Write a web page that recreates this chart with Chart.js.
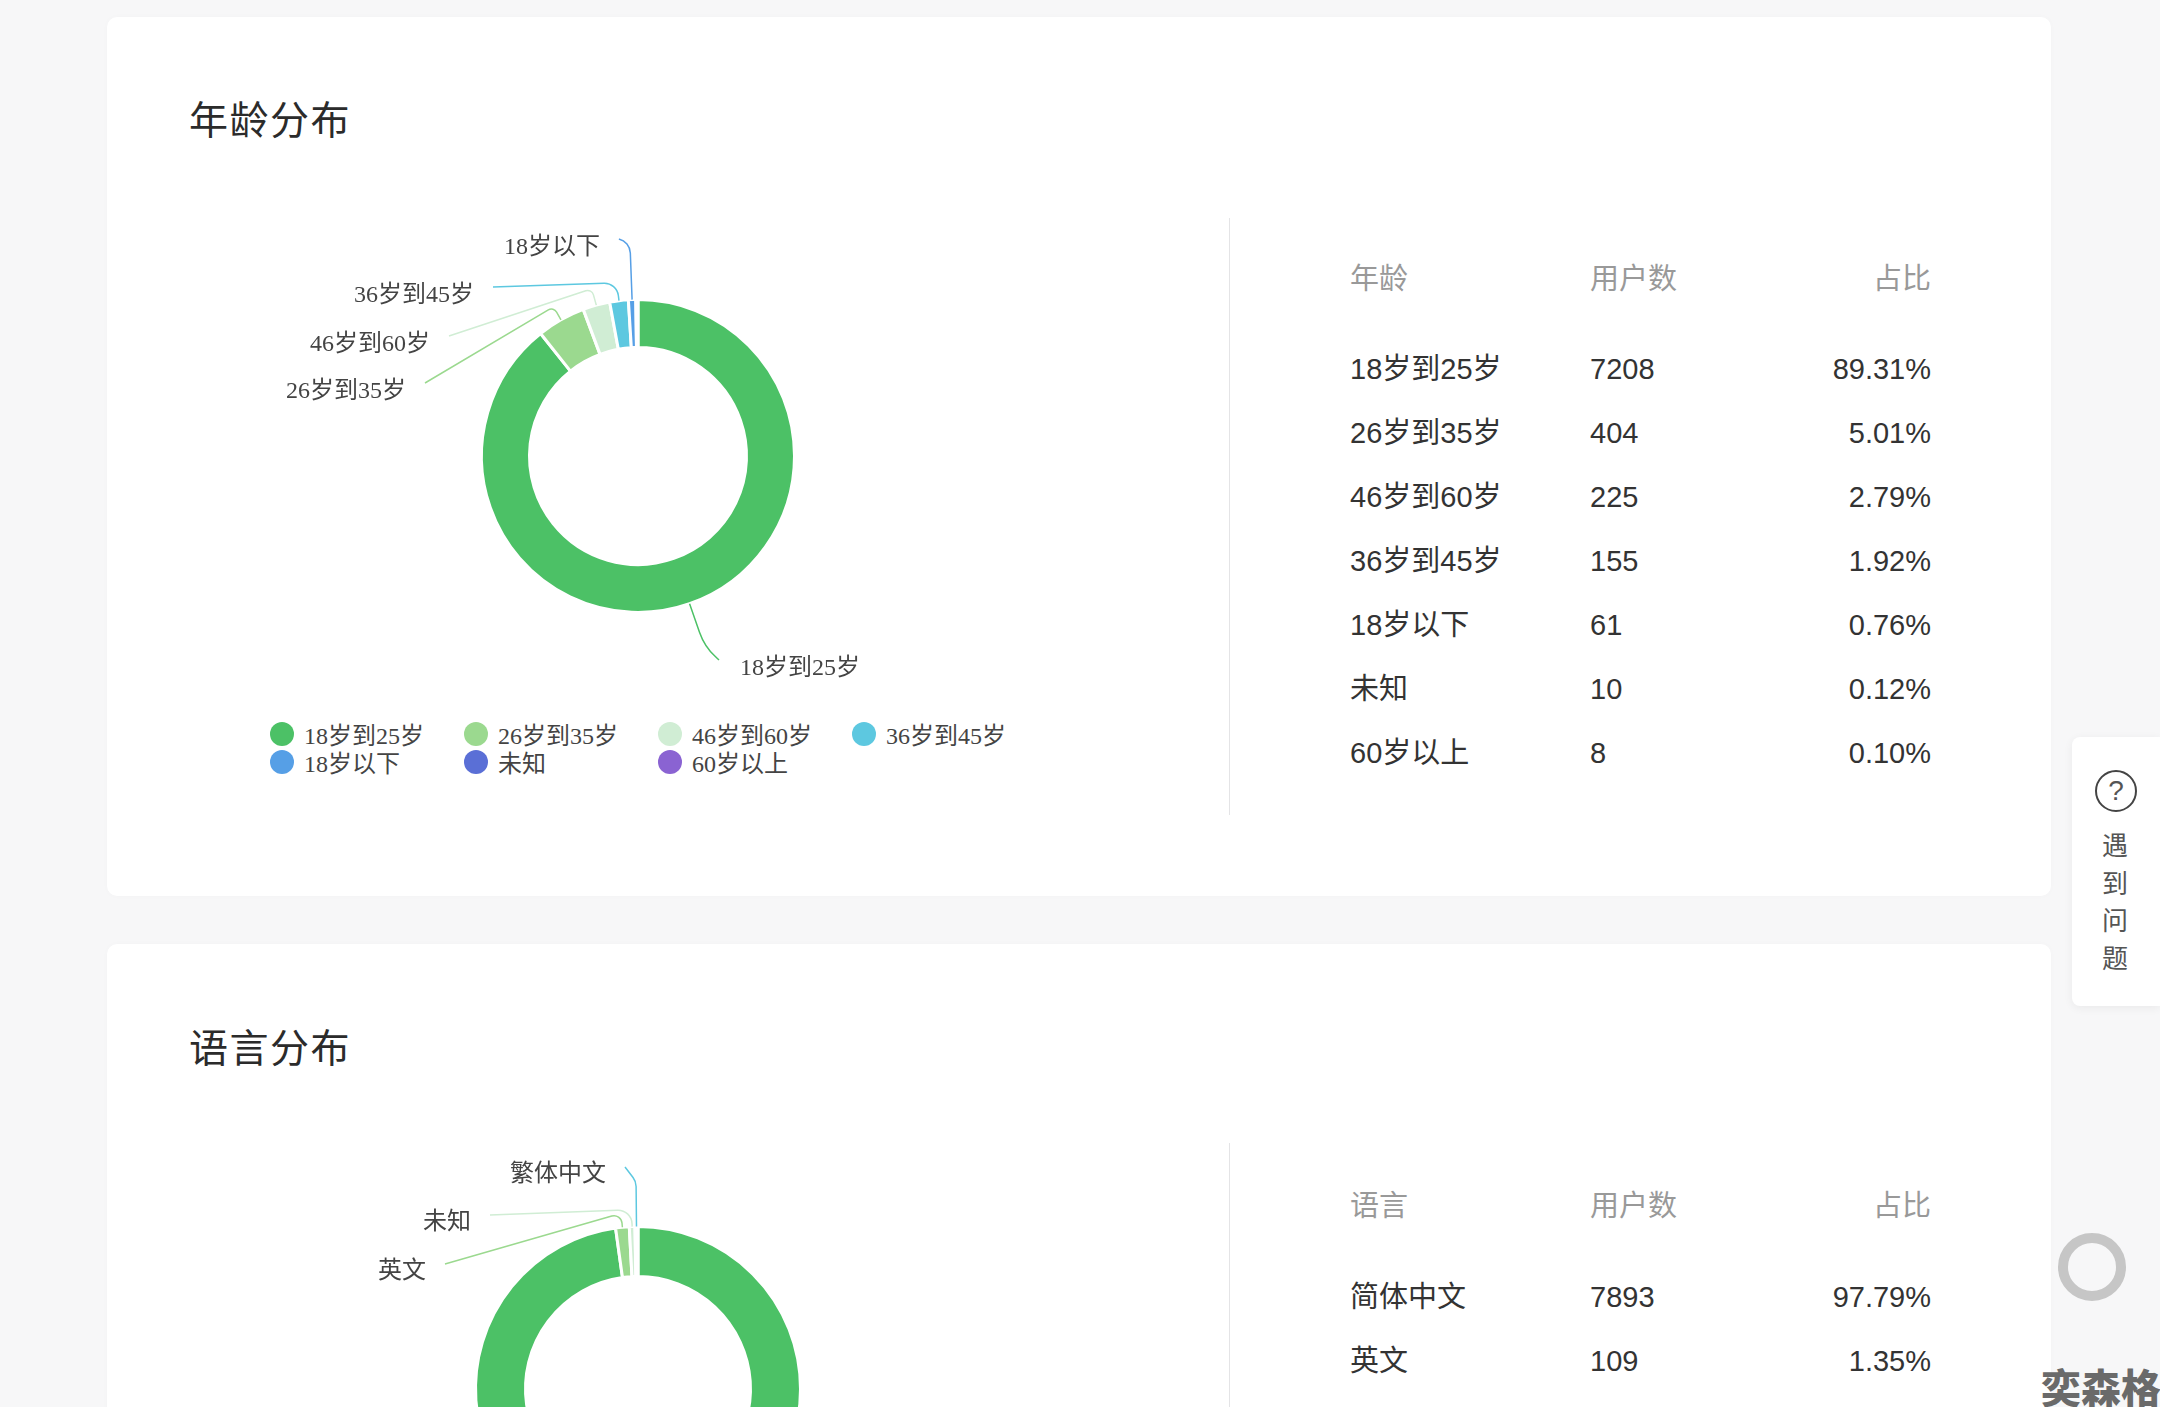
<!DOCTYPE html>
<html lang="zh">
<head>
<meta charset="utf-8">
<title>年龄分布 / 语言分布</title>
<script src="https://cdn.jsdelivr.net/npm/chart.js@4"></script>
<style>
    html, body { margin: 0; padding: 0; }
    body {
        width: 2160px;
        height: 1407px;
        overflow: hidden;
        position: relative;
        background: #f7f7f8;
        font-family: "Liberation Sans", "Noto Sans CJK SC", sans-serif;
        color: #333;
    }
    .card {
        position: absolute;
        left: 107px;
        width: 1944px;
        background: #fff;
        border-radius: 10px;
        box-shadow: 0 0 6px rgba(0, 0, 0, 0.02);
    }
    .card-title {
        position: absolute;
        left: 189px;
        font-size: 39px;
        line-height: 50px;
        letter-spacing: 1.5px;
        color: #2b2b2b;
        font-family: "Noto Sans CJK SC", sans-serif;
    }
    .divider { position: absolute; left: 1229px; width: 1px; background: #e4e4e6; }
    canvas { position: absolute; left: 238px; }
    .cell { position: absolute; font-size: 29px; line-height: 40px; white-space: nowrap; }
    .cell.head { color: #999; }
    .cell.share { right: 229px; }
    .legend-item {
        position: absolute;
        font-family: "Liberation Serif", "Noto Sans CJK SC", serif;
        font-size: 24px;
        line-height: 28px;
        color: #444;
        white-space: nowrap;
    }
    .legend-dot { position: absolute; width: 24px; height: 24px; border-radius: 50%; left: -34px; top: 0; }
    .help {
        position: absolute;
        left: 2072px;
        top: 737px;
        width: 88px;
        height: 269px;
        background: #fff;
        border-radius: 8px 0 0 8px;
        box-shadow: 0 2px 10px rgba(0, 0, 0, 0.06);
    }
    .help-icon {
        position: absolute;
        left: 23px;
        top: 33px;
        width: 38px;
        height: 38px;
        border: 2px solid #444;
        border-radius: 50%;
        text-align: center;
        font-size: 28px;
        line-height: 38px;
        color: #555;
    }
    .help-text {
        position: absolute;
        left: 30px;
        top: 88px;
        width: 28px;
        font-size: 26px;
        line-height: 37.6px;
        color: #555;
        font-family: "Noto Sans CJK SC", sans-serif;
    }
    .ring {
        position: absolute;
        left: 2058px;
        top: 1233px;
        width: 48px;
        height: 48px;
        border: 10px solid #c6c6c6;
        border-radius: 50%;
    }
    .mark {
        position: absolute;
        left: 2041px;
        top: 1358px;
        font-size: 40px;
        line-height: 56px;
        font-weight: 900;
        color: #6a6a6a;
        white-space: nowrap;
        font-family: "Noto Sans CJK SC", sans-serif;
    }
</style>
</head>
<body>
<div class="card" style="top:17px;height:879px"></div>
<div class="card" style="top:944px;height:500px"></div>

<div class="card-title" style="top:92px">年龄分布</div>
<div class="card-title" style="top:1020px">语言分布</div>

<div class="divider" style="top:218px;height:597px"></div>
<div class="divider" style="top:1143px;height:264px"></div>

<canvas id="ageChart" width="800" height="512" style="top:200px"></canvas>
<canvas id="langChart" width="800" height="578" style="top:1100px"></canvas>

<div id="ageLegend"></div>
<div id="ageTable"></div>
<div id="langTable"></div>

<div class="help">
    <div class="help-icon">?</div>
    <div class="help-text">遇到问题</div>
</div>
<div class="ring"></div>
<div class="mark">奕森格</div>

<script>
// Age data
const ageCategories = ['18岁到25岁', '26岁到35岁', '46岁到60岁', '36岁到45岁', '18岁以下', '未知', '60岁以上'];
const ageUsers = [7208, 404, 225, 155, 61, 10, 8];
const ageShares = ['89.31%', '5.01%', '2.79%', '1.92%', '0.76%', '0.12%', '0.10%'];

// Language data (the last two rows are cut off in the picture, estimated from the slices)
const langCategories = ['简体中文', '英文', '未知', '繁体中文'];
const langUsers = [7893, 109, 45, 24];
const langShares = ['97.79%', '1.35%', '0.56%', '0.30%'];

// Slice colors
const ageColors = ['#4cc166', '#9bd98f', '#d0edd4', '#5dc8e0', '#569fe6', '#5a6fd6', '#8a63d2'];
const langColors = ['#4cc166', '#9bd98f', '#d0edd4', '#5dc8e0'];

// Leader lines: end point relative to the donut center, radial length, corner size, label nudge
const ageLeaders = [
    { end: [81, 204], out: 45, bend: 60, dy: 9 },
    { end: [-213, -73], out: 15, bend: 6, dy: 9 },
    { end: [-189, -120], out: 17, bend: 6, dy: 9 },
    { end: [-145, -169], out: 18, bend: 14, dy: 9 },
    { end: [-19, -217], out: 58, bend: 15, dy: 9 },
    null,
    null
];
const langLeaders = [
    null,
    { end: [-193, -125], out: 14, bend: 8, dy: 5 },
    { end: [-148, -174], out: 17, bend: 14, dy: 5 },
    { end: [-13, -222], out: 45, bend: 15, dy: 5 }
];

// Draws the outside labels and their leader lines from the arc positions
function leaderLabels(leaders, font) {
    return {
        id: 'leaderLabels',
        afterDatasetsDraw(chart) {
            const { ctx } = chart;
            const arcs = chart.getDatasetMeta(0).data;
            const dataset = chart.data.datasets[0];
            ctx.save();
            ctx.font = font;
            ctx.textBaseline = 'middle';
            arcs.forEach((arc, i) => {
                const leader = leaders[i];
                if (!leader) return;
                const mid = (arc.startAngle + arc.endAngle) / 2;
                const ax = arc.x + Math.cos(mid) * arc.outerRadius;
                const ay = arc.y + Math.sin(mid) * arc.outerRadius;
                const ex = ax + Math.cos(mid) * leader.out;
                const ey = ay + Math.sin(mid) * leader.out;
                const tx = arc.x + leader.end[0];
                const ty = arc.y + leader.end[1];

                ctx.beginPath();
                ctx.moveTo(ax, ay);
                ctx.arcTo(ex, ey, tx, ty, leader.bend);
                ctx.lineTo(tx, ty);
                ctx.strokeStyle = dataset.backgroundColor[i];
                ctx.lineWidth = 1.5;
                ctx.stroke();

                const toRight = tx > arc.x + 30;
                ctx.textAlign = toRight ? 'left' : 'right';
                ctx.fillStyle = '#444';
                ctx.fillText(chart.data.labels[i], tx + (toRight ? 21 : -19), ty + leader.dy);
            });
            ctx.restore();
        }
    };
}

function createDonut(canvasId, labels, values, colors, leaders, radius, cutout, font) {
    return new Chart(document.getElementById(canvasId), {
        type: 'doughnut',
        data: {
            labels: labels,
            datasets: [{
                data: values,
                backgroundColor: colors,
                borderColor: '#fff',
                borderWidth: 3,
                radius: radius,
                cutout: (cutout / radius * 100) + '%'
            }]
        },
        options: {
            responsive: false,
            animation: false,
            plugins: {
                legend: { display: false },
                tooltip: { enabled: false }
            }
        },
        plugins: [leaderLabels(leaders, font)]
    });
}

// Table next to each donut
function buildTable(hostId, firstHead, labels, users, shares, headTop, firstRowTop) {
    const host = document.getElementById(hostId);
    const addCell = (text, top, left, extra) => {
        const cell = document.createElement('div');
        cell.className = 'cell ' + extra;
        cell.textContent = text;
        cell.style.top = top + 'px';
        if (left) cell.style.left = left + 'px';
        host.appendChild(cell);
    };
    addCell(firstHead, headTop, 1350, 'head');
    addCell('用户数', headTop, 1590, 'head');
    addCell('占比', headTop, 0, 'head share');
    labels.forEach((label, i) => {
        const top = firstRowTop + i * 64;
        addCell(label, top, 1350, '');
        addCell(users[i], top, 1590, '');
        addCell(shares[i], top, 0, 'share');
    });
}

// Four-column legend under the age donut
function buildLegend(hostId, labels, colors) {
    const host = document.getElementById(hostId);
    labels.forEach((label, i) => {
        const item = document.createElement('div');
        item.className = 'legend-item';
        item.style.left = 304 + (i % 4) * 194 + 'px';
        item.style.top = 722 + Math.floor(i / 4) * 28 + 'px';
        item.textContent = label;
        const dot = document.createElement('span');
        dot.className = 'legend-dot';
        dot.style.background = colors[i];
        item.appendChild(dot);
        host.appendChild(item);
    });
}

const labelFont = '24px "Liberation Serif", "Noto Sans CJK SC", serif';
const langLabelFont = '24px "Noto Sans CJK SC", sans-serif';

createDonut('ageChart', ageCategories, ageUsers, ageColors, ageLeaders, 156.5, 108.5, labelFont);
createDonut('langChart', langCategories, langUsers, langColors, langLeaders, 162.5, 112.5, langLabelFont);

buildLegend('ageLegend', ageCategories, ageColors);
buildTable('ageTable', '年龄', ageCategories, ageUsers, ageShares, 259, 349);
buildTable('langTable', '语言', langCategories, langUsers, langShares, 1186, 1277);
</script>
</body>
</html>
